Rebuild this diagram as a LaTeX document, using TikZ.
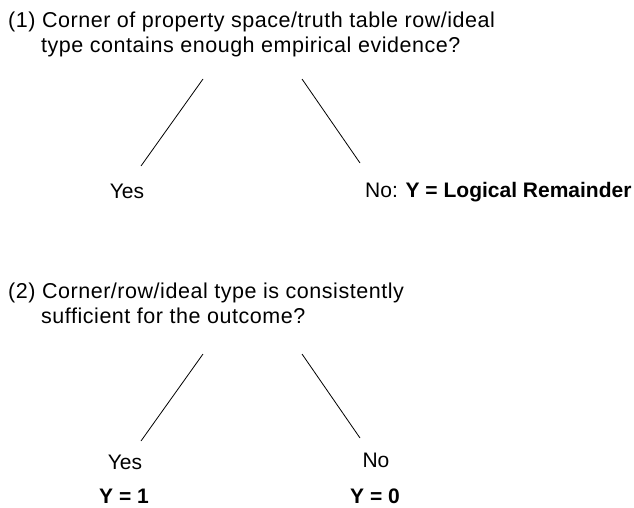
\documentclass[tikz,border=0pt]{standalone}
\usepackage{fontspec}
\setmainfont{Liberation Sans}
\newfontfamily\qfont[LetterSpace=2.5]{Liberation Sans}
\usetikzlibrary{positioning}
\tikzset{
  question/.style={anchor=base west,inner sep=0pt,font=\qfont\fontsize{21.5}{25}\selectfont},
  answer/.style={anchor=base,inner sep=0pt,font=\fontsize{21}{25}\selectfont},
  branch/.style={line width=.8pt}
}
\begin{document}
\begin{tikzpicture}[x=1pt,y=-1pt]
\useasboundingbox (0,0) rectangle (634,508);
% first question
\node[question] (q1) at (8,28) {\begin{tabular}[t]{@{}l@{}}(1) Corner of property space/truth table row/ideal\\
  \hspace*{33pt}type contains enough empirical evidence?\end{tabular}};
\coordinate (q1l) at (203,79);
\coordinate (q1r) at (302,79);
\node[answer] (yes1) at (127,198) {Yes};
\node[answer,anchor=base west] (no1) at (365,197) {No: \textbf{Y = Logical Remainder}};
\coordinate (yes1t) at (141,166);
\coordinate (no1t) at (360,163);
\draw[branch] (q1l) -- (yes1t);
\draw[branch] (q1r) -- (no1t);
% second question
\node[question] (q2) at (8,298) {\begin{tabular}[t]{@{}l@{}}(2) Corner/row/ideal type is consistently\\
  \hspace*{33pt}sufficient for the outcome?\end{tabular}};
\coordinate (q2l) at (203,354);
\coordinate (q2r) at (302,354);
\node[answer] (yes2) at (125,469) {Yes};
\node[answer] (no2) at (376,467) {No};
\node[answer] (y1) at (124,503) {\textbf{Y = 1}};
\node[answer] (y0) at (375,503) {\textbf{Y = 0}};
\coordinate (yes2t) at (141,441);
\coordinate (no2t) at (360,438);
\draw[branch] (q2l) -- (yes2t);
\draw[branch] (q2r) -- (no2t);
\end{tikzpicture}
\end{document}
